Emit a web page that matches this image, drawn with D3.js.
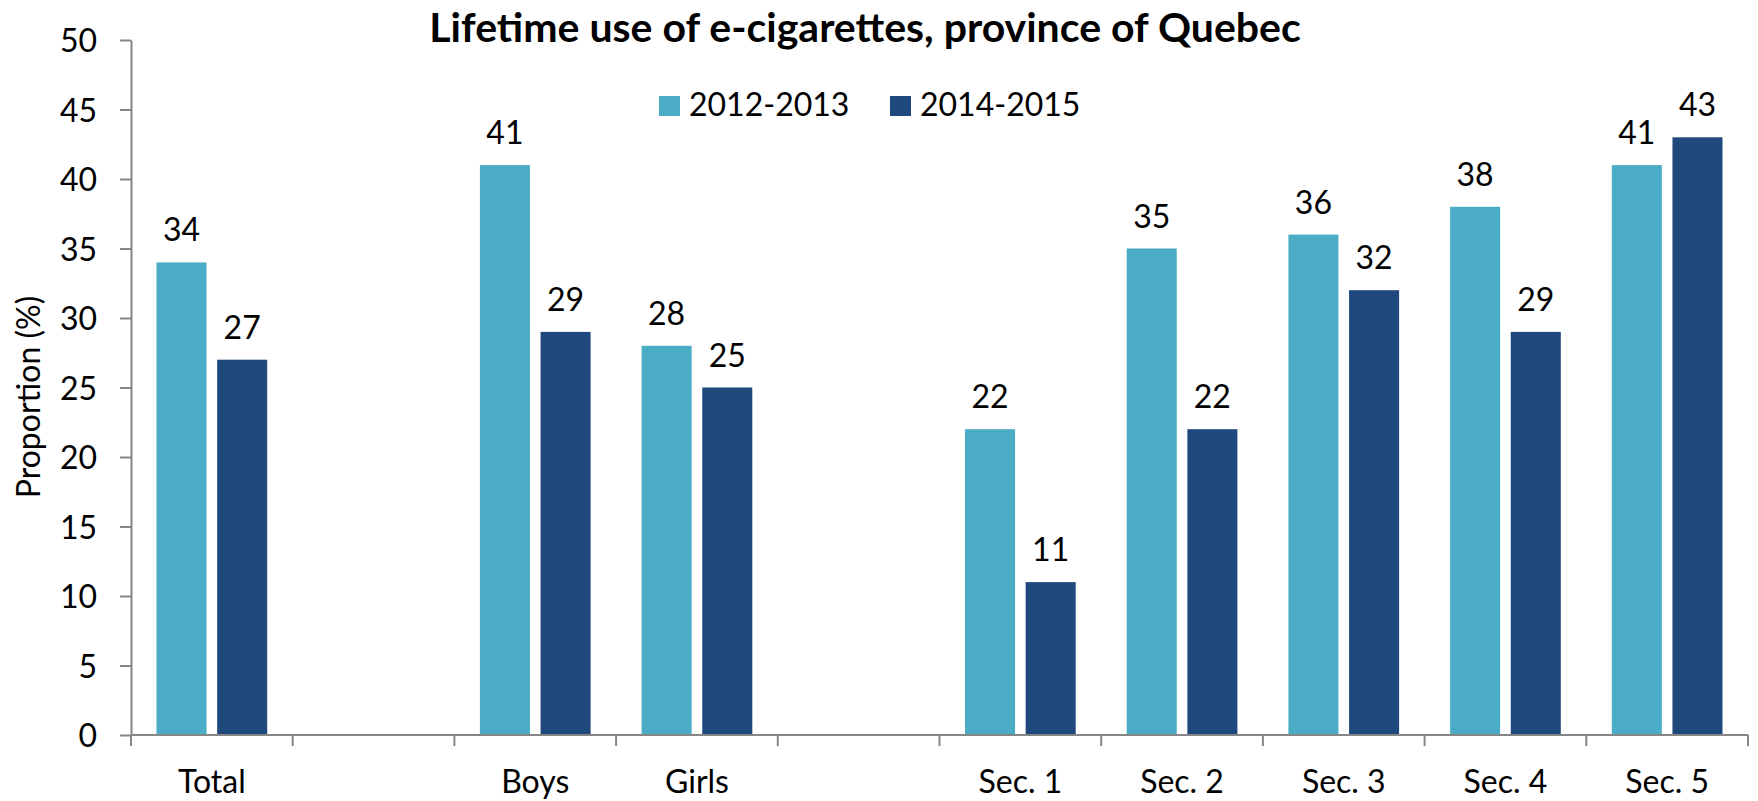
<!DOCTYPE html>
<html>
<head>
<meta charset="utf-8">
<script src="https://cdn.jsdelivr.net/npm/d3@7"></script>
<style>
  body { margin: 0; background: #fff; }
  text { font-family: Lato, "Open Sans", sans-serif; fill: #000; }
</style>
</head>
<body>
<script>
// chart data
var categories = ["Total", "", "Boys", "Girls", "", "Sec. 1", "Sec. 2", "Sec. 3", "Sec. 4", "Sec. 5"];
var seriesNames = ["2012-2013", "2014-2015"];
var values2012 = [34, null, 41, 28, null, 22, 35, 36, 38, 41];
var values2014 = [27, null, 29, 25, null, 11, 22, 32, 29, 43];
var yTicks = [0, 5, 10, 15, 20, 25, 30, 35, 40, 45, 50];
var colors = ["#4BACC6", "#1F497D"];

(function() {

  var width = 1758, height = 801;
  // plot area edges (window.top is reserved, so keep these local)
  var plotLeft = 131, plotRight = 1748, plotTop = 40, plotBottom = 735;

  var svg = d3.select("body").append("svg")
    .attr("width", width)
    .attr("height", height);

  var x = d3.scaleBand()
    .domain(d3.range(categories.length))
    .range([plotLeft, plotRight]);

  // position of the two bars inside one category
  var xSub = d3.scaleBand()
    .domain([0, 1])
    .range([25.5, x.bandwidth() - 25.5])
    .paddingInner(0.175);

  var y = d3.scaleLinear()
    .domain([0, 50])
    .range([plotBottom, plotTop]);

  var series = [values2012, values2014];

  // bars and value labels
  series.forEach(function(vals, s) {
    var pts = vals.map(function(v, i) { return {v: v, i: i}; })
                  .filter(function(d) { return d.v != null; });

    svg.append("g").selectAll("rect")
      .data(pts)
      .enter().append("rect")
      .attr("x", function(d) { return x(d.i) + xSub(s); })
      .attr("y", function(d) { return y(d.v); })
      .attr("width", xSub.bandwidth())
      .attr("height", function(d) { return y(0) - y(d.v); })
      .attr("fill", colors[s]);

    svg.append("g").selectAll("text")
      .data(pts)
      .enter().append("text")
      .attr("x", function(d) { return x(d.i) + xSub(s) + xSub.bandwidth() / 2; })
      .attr("y", function(d) { return y(d.v) - 21; })
      .attr("text-anchor", "middle")
      .style("font-size", "32px")
      .text(function(d) { return d.v; });
  });

  // y axis
  var yAxis = svg.append("g")
    .attr("transform", "translate(" + plotLeft + ",0)")
    .call(d3.axisLeft(y).tickValues(yTicks).tickSize(11).tickPadding(23).tickSizeOuter(0));
  yAxis.select(".domain").attr("stroke", "#868686").attr("stroke-width", 2);
  yAxis.selectAll(".tick line").attr("stroke", "#868686").attr("stroke-width", 2);
  yAxis.selectAll(".tick text")
    .attr("dy", "0.36em")
    .style("font-size", "32px")
    .style("font-family", "Lato, sans-serif")
    .attr("fill", "#000");

  // x axis: baseline, boundary ticks and labels
  var xAxis = svg.append("g");
  xAxis.append("line")
    .attr("x1", plotLeft).attr("x2", plotRight)
    .attr("y1", y(0)).attr("y2", y(0))
    .attr("stroke", "#868686").attr("stroke-width", 2);
  xAxis.selectAll("line.tick")
    .data(d3.range(categories.length + 1))
    .enter().append("line")
    .attr("class", "tick")
    .attr("x1", function(i) { return i < categories.length ? x(i) : x.range()[1]; })
    .attr("x2", function(i) { return i < categories.length ? x(i) : x.range()[1]; })
    .attr("y1", y(0)).attr("y2", y(0) + 11)
    .attr("stroke", "#868686").attr("stroke-width", 2);
  xAxis.selectAll("text")
    .data(categories)
    .enter().append("text")
    .attr("x", function(d, i) { return x(i) + x.bandwidth() / 2; })
    .attr("y", y(0) + 58)
    .attr("text-anchor", "middle")
    .style("font-size", "32px")
    .text(function(d) { return d; });

  // y axis title
  svg.append("text")
    .attr("transform", "translate(40,397) rotate(-90)")
    .attr("text-anchor", "middle")
    .style("font-size", "32px")
    .text("Proportion (%)");

  // title
  svg.append("text")
    .attr("x", 865)
    .attr("y", 42)
    .attr("text-anchor", "middle")
    .style("font-size", "41px")
    .style("font-weight", "bold")
    .text("Lifetime use of e-cigarettes, province of Quebec");

  // legend
  var legendX = [659, 890];
  var legend = svg.append("g");
  seriesNames.forEach(function(name, s) {
    legend.append("rect")
      .attr("x", legendX[s]).attr("y", 96)
      .attr("width", 21).attr("height", 20)
      .attr("fill", colors[s]);
    legend.append("text")
      .attr("x", legendX[s] + 30).attr("y", 116)
      .style("font-size", "32px")
      .text(name);
  });

})();
</script>
</body>
</html>
